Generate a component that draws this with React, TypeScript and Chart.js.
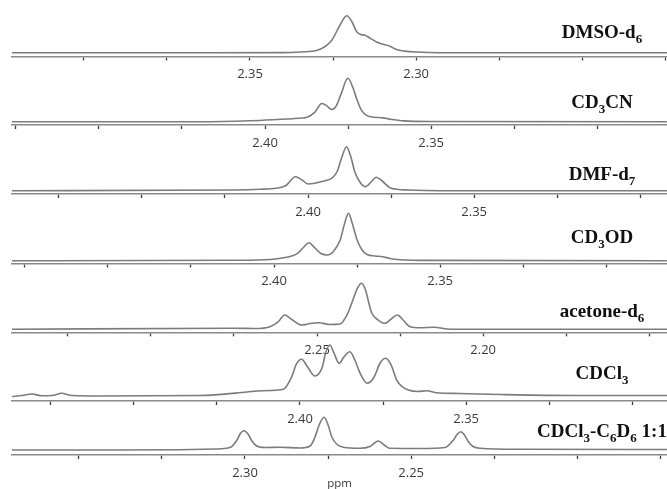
import React, { useEffect, useRef } from 'react';
import { Chart, registerables } from 'chart.js';

Chart.register(...registerables);

// ---------------- DATA ----------------
const solventNames = [
  'DMSO-d{6}',
  'CD{3}CN',
  'DMF-d{7}',
  'CD{3}OD',
  'acetone-d{6}',
  'CDCl{3}',
  'CDCl{3}-C{6}D{6} 1:1',
];

const xAxisTitle = 'ppm';

// DMSO-d6
const dmsoPpm = [2.4216, 2.365, 2.3401, 2.3335, 2.3289, 2.3254, 2.3229, 2.3209, 2.3193, 2.3179, 2.3166, 2.3154, 2.3139, 2.3119, 2.31, 2.3079, 2.3059, 2.3034, 2.2999, 2.2928, 2.2245];
const dmsoIntensity = [0, 0, 0.5, 2.7, 9.5, 34, 75, 100, 83, 56.5, 49, 47.5, 39.4, 29.3, 23, 17.7, 8.7, 4.6, 2.2, 0.3, 0];
const dmsoTickLabels = ['2.35', '2.30'];

// CD3CN
const cd3cnPpm = [2.4761, 2.4196, 2.4045, 2.3967, 2.391, 2.3871, 2.385, 2.3829, 2.3813, 2.38, 2.3786, 2.3771, 2.3751, 2.3735, 2.3723, 2.371, 2.3693, 2.3672, 2.3646, 2.3624, 2.3582, 2.3504, 2.2791];
const cd3cnIntensity = [0, 0, 2.3, 5, 7.4, 11, 22, 42, 36, 28, 36, 64, 100, 77.5, 50, 26.6, 14, 10.4, 8.8, 5.8, 1.9, 0.5, 0];
const cd3cnTickLabels = ['2.40', '2.35'];

// DMF-d7
const dmfPpm = [2.4891, 2.4223, 2.4144, 2.4096, 2.4066, 2.4038, 2.4018, 2.4, 2.398, 2.3952, 2.3929, 2.3913, 2.3898, 2.3884, 2.3871, 2.3859, 2.3844, 2.3827, 2.381, 2.3795, 2.3777, 2.375, 2.3699, 2.3603, 2.292];
const dmfIntensity = [0, 1.6, 3.2, 5.5, 11.8, 31.8, 24.3, 15.2, 16.8, 22, 28.2, 42.5, 76.6, 100, 76.6, 42.5, 19.8, 9.1, 19.8, 30.5, 22, 5.5, 1.6, 0, 0];
const dmfTickLabels = ['2.40', '2.35'];

// CD3OD
const cd3odPpm = [2.4788, 2.4102, 2.4012, 2.398, 2.3952, 2.3929, 2.3913, 2.3895, 2.3877, 2.3859, 2.3839, 2.382, 2.3801, 2.3788, 2.3776, 2.3764, 2.375, 2.3735, 2.372, 2.3696, 2.3673, 2.3651, 2.3621, 2.3531, 2.2818];
const cd3odIntensity = [0, 0.8, 2.5, 5.1, 8.9, 15.6, 26.8, 38, 26.8, 15.2, 12, 20.5, 43.7, 77.4, 100, 77.4, 43.7, 22.6, 13.1, 9.9, 8.4, 4.6, 2.1, 0.6, 0];
const cd3odTickLabels = ['2.40', '2.35'];

// acetone-d6
const acetonePpm = [2.3418, 2.275, 2.2687, 2.2641, 2.2617, 2.2597, 2.2578, 2.2545, 2.2521, 2.2494, 2.2461, 2.2431, 2.241, 2.2392, 2.2378, 2.2366, 2.2354, 2.2344, 2.2335, 2.2316, 2.2296, 2.2277, 2.2258, 2.2241, 2.222, 2.219, 2.2149, 2.2098, 2.1447];
const acetoneIntensity = [0, 2.2, 1.7, 5.7, 16, 31, 22.4, 9.3, 12.6, 14.3, 10.4, 11.5, 31, 63.7, 89.8, 100, 85.4, 57, 34.8, 20.2, 13, 22.4, 31, 20.2, 5.7, 3.5, 4.3, 0, 0];
const acetoneTickLabels = ['2.25', '2.20'];

// CDCl3
const cdcl3Ppm = [2.4866, 2.4836, 2.4807, 2.4776, 2.4746, 2.4717, 2.4686, 2.4602, 2.4301, 2.416, 2.4129, 2.409, 2.405, 2.4025, 2.4011, 2.3995, 2.3979, 2.3955, 2.3934, 2.3922, 2.391, 2.3898, 2.3882, 2.3868, 2.385, 2.3835, 2.3819, 2.3798, 2.3777, 2.3759, 2.3742, 2.3726, 2.3709, 2.3693, 2.3674, 2.3645, 2.3619, 2.3589, 2.3519, 2.3398, 2.3158, 2.2896];
const cdcl3Intensity = [0, 1.9, 4.9, 1.4, 1.9, 6.2, 1.9, 1, 1.9, 8.7, 10.7, 11.7, 14, 38.4, 63, 72.2, 59.2, 39.8, 55.3, 86.4, 100, 84.5, 64.5, 76.7, 87, 70.9, 45, 25.6, 37.9, 65, 74.2, 61.2, 32, 19.4, 12.6, 9.7, 11.3, 7.4, 5.8, 3.9, 1.9, 1.9];
const cdcl3TickLabels = ['2.40', '2.35'];

// CDCl3-C6D6 1:1
const mixPpm = [2.3701, 2.3436, 2.3196, 2.309, 2.3045, 2.3024, 2.3014, 2.3003, 2.2991, 2.298, 2.2967, 2.294, 2.2895, 2.2835, 2.2804, 2.2789, 2.2777, 2.2762, 2.275, 2.2739, 2.2723, 2.2704, 2.2654, 2.2624, 2.2599, 2.2579, 2.2564, 2.2474, 2.2398, 2.2373, 2.2362, 2.2351, 2.234, 2.2328, 2.2314, 2.2293, 2.2173, 2.173];
const mixIntensity = [0, 0, 0.9, 3.1, 7.6, 30.6, 50.5, 59, 48.9, 29, 13.8, 7.6, 8.3, 6.1, 12.2, 40.7, 76.5, 100, 76.5, 40.7, 16.8, 8.3, 5.2, 10.7, 27.5, 13.8, 5.2, 4.6, 7.6, 30.6, 47.4, 56, 45.9, 25.4, 10.7, 5.2, 2.1, 1.5];
const mixTickLabels = ['2.30', '2.25'];

const TICK_STEP = 0.025;

// ---------------- LAYOUT (positions / sizes only) ----------------
const WIDTH = 667;
const HEIGHT = 489;
const LEFT = 12;
const PX_PER_PPM = 3324;
const LABEL_CX = 602;

const panels = [
  { name: solventNames[0], ppm: dmsoPpm, inten: dmsoIntensity, ticks: dmsoTickLabels },
  { name: solventNames[1], ppm: cd3cnPpm, inten: cd3cnIntensity, ticks: cd3cnTickLabels },
  { name: solventNames[2], ppm: dmfPpm, inten: dmfIntensity, ticks: dmfTickLabels },
  { name: solventNames[3], ppm: cd3odPpm, inten: cd3odIntensity, ticks: cd3odTickLabels },
  { name: solventNames[4], ppm: acetonePpm, inten: acetoneIntensity, ticks: acetoneTickLabels },
  { name: solventNames[5], ppm: cdcl3Ppm, inten: cdcl3Intensity, ticks: cdcl3TickLabels },
  { name: solventNames[6], ppm: mixPpm, inten: mixIntensity, ticks: mixTickLabels },
];

const layouts = [
  { axisY: 56.5, baseY: 52.8, peakY: 15.7, anchorX: 250, labelBaseY: 38 },
  { axisY: 125, baseY: 121.7, peakY: 78.3, anchorX: 265, labelBaseY: 108 },
  { axisY: 194, baseY: 190.7, peakY: 146.7, anchorX: 308, labelBaseY: 180 },
  { axisY: 263.5, baseY: 260.7, peakY: 213.3, anchorX: 274, labelBaseY: 243 },
  { axisY: 332.3, baseY: 329.3, peakY: 283.3, anchorX: 317, labelBaseY: 317 },
  { axisY: 401, baseY: 396.5, peakY: 345, anchorX: 300, labelBaseY: 379 },
  { axisY: 455, baseY: 450, peakY: 417.3, anchorX: 245, labelBaseY: 437 },
];

type PanelData = { name: string; ppm: number[]; inten: number[]; ticks: string[] };
type PanelLayout = { axisY: number; baseY: number; peakY: number; anchorX: number; labelBaseY: number };

function Spectrum({ panel, lay, last }: { panel: PanelData; lay: PanelLayout; last: boolean }) {
  const ref = useRef<HTMLCanvasElement | null>(null);
  const top = Math.max(0, Math.round(lay.axisY - 60));
  const areaH = lay.axisY - top;
  const bottomY = last ? 491 : lay.axisY + 32;
  const height = Math.round(bottomY - top);
  const axisH = height - areaH;

  useEffect(() => {
    const canvas = ref.current;
    if (!canvas) return;
    const anchor = parseFloat(panel.ticks[0]);
    const xMax = anchor + (lay.anchorX - LEFT) / PX_PER_PPM;
    const xMin = anchor - (WIDTH - lay.anchorX) / PX_PER_PPM;
    const gap = lay.axisY - lay.baseY;
    const s = (lay.baseY - lay.peakY) / 100;
    const yMin = -gap / s;
    const yMax = yMin + areaH / s;

    const chart = new Chart(canvas, {
      type: 'line',
      data: {
        datasets: [
          {
            data: panel.ppm.map((x, i) => ({ x, y: panel.inten[i] })),
            borderColor: '#7c7c7c',
            borderWidth: 1.6,
            pointRadius: 0,
            cubicInterpolationMode: 'monotone',
            fill: false,
          },
        ],
      },
      options: {
        responsive: false,
        animation: false,
        events: [],
        layout: { padding: { left: LEFT, right: 0, top: 0, bottom: 0 } },
        plugins: { legend: { display: false }, tooltip: { enabled: false }, title: { display: false } },
        scales: {
          x: {
            type: 'linear',
            reverse: true,
            min: xMin,
            max: xMax,
            offset: false,
            afterBuildTicks: (scale: any) => {
              const out: { value: number }[] = [];
              const k0 = Math.ceil((xMin - anchor) / TICK_STEP - 1e-6);
              const k1 = Math.floor((xMax - anchor) / TICK_STEP + 1e-6);
              for (let k = k0; k <= k1; k++) out.push({ value: +(anchor + k * TICK_STEP).toFixed(4) });
              scale.ticks = out;
            },
            afterFit: (scale: any) => {
              scale.height = axisH;
            },
            border: { display: true, color: '#8a8a8a', width: 1.6 },
            grid: {
              display: true,
              drawOnChartArea: false,
              drawTicks: true,
              tickLength: 4,
              tickColor: '#3c3c3c',
              tickWidth: 1.3,
            },
            ticks: {
              autoSkip: false,
              maxRotation: 0,
              minRotation: 0,
              padding: 6,
              color: '#3a3a3a',
              font: { family: "'Open Sans', sans-serif", size: 13 },
              callback: (value: any) => {
                const v = Number(value);
                const str = v.toFixed(2);
                return panel.ticks.includes(str) && Math.abs(v - parseFloat(str)) < 1e-6 ? str : '';
              },
            },
            title: last
              ? {
                  display: true,
                  text: xAxisTitle,
                  color: '#3a3a3a',
                  font: { family: "'Open Sans', sans-serif", size: 11.5 },
                  padding: 0,
                }
              : { display: false },
          },
          y: { type: 'linear', display: false, min: yMin, max: yMax },
        },
      },
    } as any);
    return () => chart.destroy();
  }, []);

  return (
    <canvas
      ref={ref}
      width={WIDTH}
      height={height}
      style={{ position: 'absolute', left: 0, top, width: WIDTH, height, display: 'block' }}
    />
  );
}

function SolventLabel({ text, baseY }: { text: string; baseY: number }) {
  const parts = text.split(/(\{[^}]*\})/).filter((p) => p.length > 0);
  return (
    <div
      style={{
        position: 'absolute',
        left: LABEL_CX - 160,
        width: 320,
        top: baseY - 15.9,
        textAlign: 'center',
        fontFamily: "'Liberation Serif', 'Times New Roman', serif",
        fontWeight: 'bold',
        fontSize: 19,
        lineHeight: '19px',
        whiteSpace: 'nowrap',
        color: '#111',
      }}
    >
      {parts.map((p, i) =>
        p.startsWith('{') ? (
          <span key={i} style={{ fontSize: 13, position: 'relative', top: 5 }}>
            {p.slice(1, -1)}
          </span>
        ) : (
          <span key={i}>{p}</span>
        )
      )}
    </div>
  );
}

export default function App() {
  return (
    <div
      style={{
        position: 'fixed',
        left: 0,
        top: 0,
        width: WIDTH,
        height: HEIGHT,
        overflow: 'hidden',
        background: '#fff',
      }}
    >
      {panels.map((p, i) => (
        <Spectrum key={i} panel={p} lay={layouts[i]} last={i === panels.length - 1} />
      ))}
      {panels.map((p, i) => (
        <SolventLabel key={'l' + i} text={p.name} baseY={layouts[i].labelBaseY} />
      ))}
    </div>
  );
}
